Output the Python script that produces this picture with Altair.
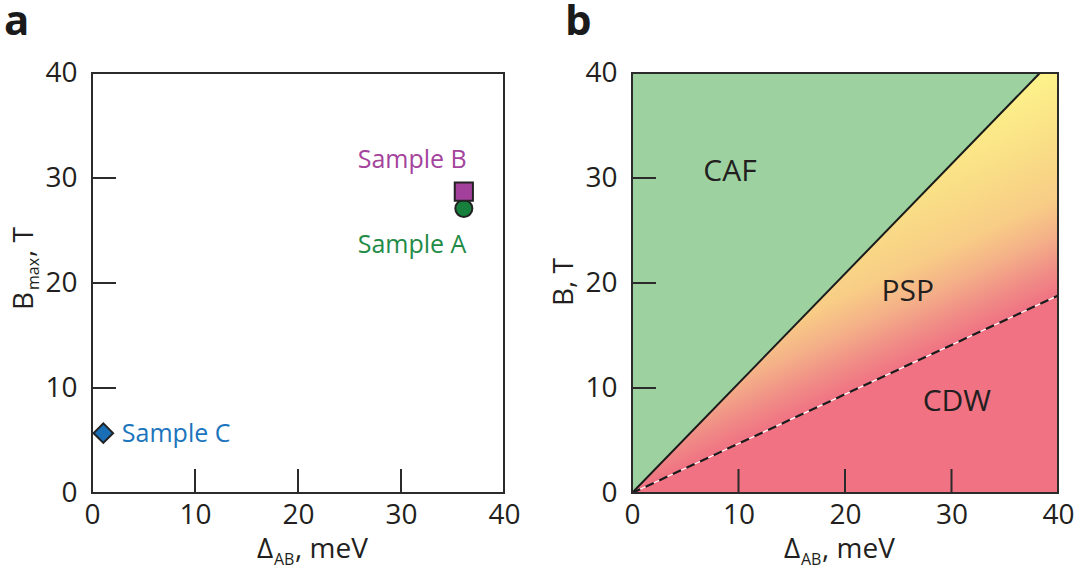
import altair as alt
import pandas as pd

FONT = "Open Sans"
INK = "#231f20"

# ---- shared axis values -------------------------------------------------
axis_values = [0, 10, 20, 30, 40]
inner_ticks = [10, 20, 30]
domain = [0, 40]

# ---- panel a: samples ---------------------------------------------------
samples = ["Sample C", "Sample A", "Sample B"]
gap_mev = [1.1, 36.1, 36.1]
bmax_t = [5.7, 27.1, 28.7]
marker_shapes = ["diamond", "circle", "square"]
marker_fills = ["#1a6eb5", "#17803d", "#a3409b"]
marker_sizes = [380, 290, 330]
label_colors = ["#1b75bc", "#1f8b47", "#a4449d"]
label_x = [2.9, 25.8, 25.8]
label_y = [5.6, 23.6, 31.7]

# ---- panel b: phase boundaries -----------------------------------------
caf_x = [0, 38.3]          # CAF / PSP boundary (solid)
caf_b = [0, 40]
cdw_x = [0, 40]            # PSP / CDW boundary (dashed)
cdw_b = [0, 18.8]
psp_x = [0, 38.3, 40]      # PSP wedge between the two boundaries
psp_low = [0, 18.0, 18.8]
psp_high = [0, 40, 40]
regions = ["CAF", "PSP", "CDW"]
region_x = [9.2, 25.9, 30.5]
region_y = [30.6, 19.1, 8.7]

GREEN = "#9dd2a0"
RED = "#f07283"
psp_stops = [(0.00, RED), (0.12, "#f08c86"), (0.26, "#f4ae88"),
             (0.42, "#f8cc86"), (0.62, "#f9da86"), (0.82, "#fbe788"),
             (1.00, "#fdf38a")]

WA, WB, H = 412, 426, 420
TICK = 24

SC = alt.Scale(domain=domain, nice=False, zero=False)
AX = alt.Axis(values=axis_values, ticks=False, domain=False, grid=False, title=None,
              labelFlush=False, labelOverlap=False,
              labelFont=FONT, labelFontSize=28, labelColor=INK, labelPadding=8)
AY = alt.Axis(values=axis_values, ticks=False, domain=False, grid=False, title=None,
              labelFlush=False, labelOverlap=False,
              labelFont=FONT, labelFontSize=28, labelColor=INK, labelPadding=15)


def X(field, **kw):
    return alt.X(field, type="quantitative", scale=SC, axis=AX, **kw)


def Y(field, **kw):
    return alt.Y(field, type="quantitative", scale=SC, axis=AY, **kw)


def piece(s, px, py, size, dx=0, dy=0, angle=0, weight="normal", color=INK):
    return alt.Chart(pd.DataFrame({"s": [s]})).mark_text(
        font=FONT, fontSize=size, fontWeight=weight, color=color, align="left",
        baseline="alphabetic", dx=dx, dy=dy, angle=angle
    ).encode(text="s:N", x=alt.value(px), y=alt.value(py))


def frame_and_ticks():
    frame = alt.Chart(pd.DataFrame({"x0": [domain[0]], "x1": [domain[1]],
                                    "y0": [domain[0]], "y1": [domain[1]]})).mark_rect(
        fillOpacity=0, stroke="#2b2b2b", strokeWidth=2
    ).encode(x=X("x0"), x2="x1", y=Y("y0"), y2="y1")
    ticks = pd.DataFrame({"v": inner_ticks})
    yt = alt.Chart(ticks).mark_rule(stroke="#2b2b2b", strokeWidth=2).encode(
        y=Y("v"), x=alt.value(0), x2=alt.value(TICK))
    xt = alt.Chart(ticks).mark_rule(stroke="#2b2b2b", strokeWidth=2).encode(
        x=X("v"), y=alt.value(H), y2=alt.value(H - TICK))
    return [frame, yt, xt]


def x_title(px):
    return [piece("\u0394", px, H + 65, 28),
            piece("AB", px, H + 65, 16, dx=17, dy=7),
            piece(", meV", px, H + 65, 28, dx=38)]


# ---------------- panel a ----------------
pts = pd.DataFrame({"sample": samples, "x": gap_mev, "y": bmax_t, "sz": marker_sizes})
markers = alt.Chart(pts).mark_point(filled=True, opacity=1, stroke="#222", strokeWidth=2).encode(
    x=X("x"), y=Y("y"),
    shape=alt.Shape("sample:N", scale=alt.Scale(domain=samples, range=marker_shapes), legend=None),
    fill=alt.Fill("sample:N", scale=alt.Scale(domain=samples, range=marker_fills), legend=None),
    size=alt.Size("sz:Q", scale=None, legend=None),
    order=alt.Order("order:Q"),
).transform_window(order="row_number()")

labs = pd.DataFrame({"sample": samples, "x": label_x, "y": label_y})
sample_text = alt.Chart(labs).mark_text(font=FONT, fontSize=25, align="left", baseline="middle").encode(
    x=X("x"), y=Y("y"), text="sample:N",
    color=alt.Color("sample:N", scale=alt.Scale(domain=samples, range=label_colors), legend=None))

canvas = alt.Chart(pd.DataFrame({"k": [0]})).mark_rect(opacity=0).encode(
    x=alt.value(-92), x2=alt.value(1080 - 92), y=alt.value(-73), y2=alt.value(572 - 73))

panel_a = alt.layer(
    canvas, markers, sample_text, *frame_and_ticks(),
    piece("a", -88, -38, 42, weight="bold", color="#1a1a1a"),
    piece("B", -59, 237, 28, angle=270),
    piece("max", -59, 237, 16, dx=20, dy=6, angle=270),
    piece(", T", -59, 237, 28, dx=53, angle=270),
    *x_title(165),
).properties(width=WA, height=H)

# ---------------- panel b ----------------
green = alt.Chart(pd.DataFrame({"x0": [domain[0]], "x1": [domain[1]],
                                "y0": [domain[0]], "y1": [domain[1]]})).mark_rect(
    color=GREEN).encode(x=X("x0"), x2="x1", y=Y("y0"), y2="y1")

# gradient runs perpendicular to the dashed boundary, measured in the
# wedge's bounding box (which spans the full 0-40 domain on both axes)
slope = cdw_b[1] / cdw_x[1]
nrm = (1 + slope ** 2) ** 0.5
ux, uy = -slope / nrm, 1 / nrm
reach = 22 / nrm
sx, sy = 20.0, 20.0 * slope
ex, ey = sx + reach * ux, sy + reach * uy
span = domain[1] - domain[0]
grad = alt.LinearGradient(
    gradient="linear",
    stops=[alt.GradientStop(offset=o, color=c) for o, c in psp_stops],
    x1=sx / span, y1=1 - sy / span, x2=ex / span, y2=1 - ey / span)

psp = alt.Chart(pd.DataFrame({"x": psp_x, "lo": psp_low, "hi": psp_high})).mark_area(
    color=grad, opacity=1).encode(x=X("x"), y=Y("lo"), y2="hi")
cdw = alt.Chart(pd.DataFrame({"x": cdw_x, "lo": [0, 0], "hi": cdw_b})).mark_area(
    color=RED, opacity=1).encode(x=X("x"), y=Y("lo"), y2="hi")

solid = alt.Chart(pd.DataFrame({"x": caf_x, "y": caf_b})).mark_line(
    color="#1a1a1a", strokeWidth=2).encode(x=X("x"), y=Y("y"))
dash_df = pd.DataFrame({"x": cdw_x, "y": cdw_b})
dash_white = alt.Chart(dash_df).mark_line(color="white", strokeWidth=1.2).encode(x=X("x"), y=Y("y"))
dash_black = alt.Chart(dash_df).mark_line(color="#1a1a1a", strokeWidth=2.2, strokeDash=[9, 6]).encode(
    x=X("x"), y=Y("y"))

region_text = alt.Chart(pd.DataFrame({"r": regions, "x": region_x, "y": region_y})).mark_text(
    font=FONT, fontSize=30, color=INK, align="center", baseline="middle").encode(
    x=X("x"), y=Y("y"), text="r:N")

panel_b = alt.layer(
    green, psp, cdw, solid, dash_white, dash_black, region_text, *frame_and_ticks(),
    piece("b", -67, -38, 42, weight="bold", color="#1a1a1a"),
    piece("B, T", -59, 233, 28, angle=270),
    *x_title(152),
).properties(width=WB, height=H)

chart = alt.hconcat(panel_a, panel_b, spacing=128, bounds="flush").properties(
    padding=0, background="white"
).configure_view(stroke=None)

chart.save("out.html", embed_options={"renderer": "svg", "actions": False})
